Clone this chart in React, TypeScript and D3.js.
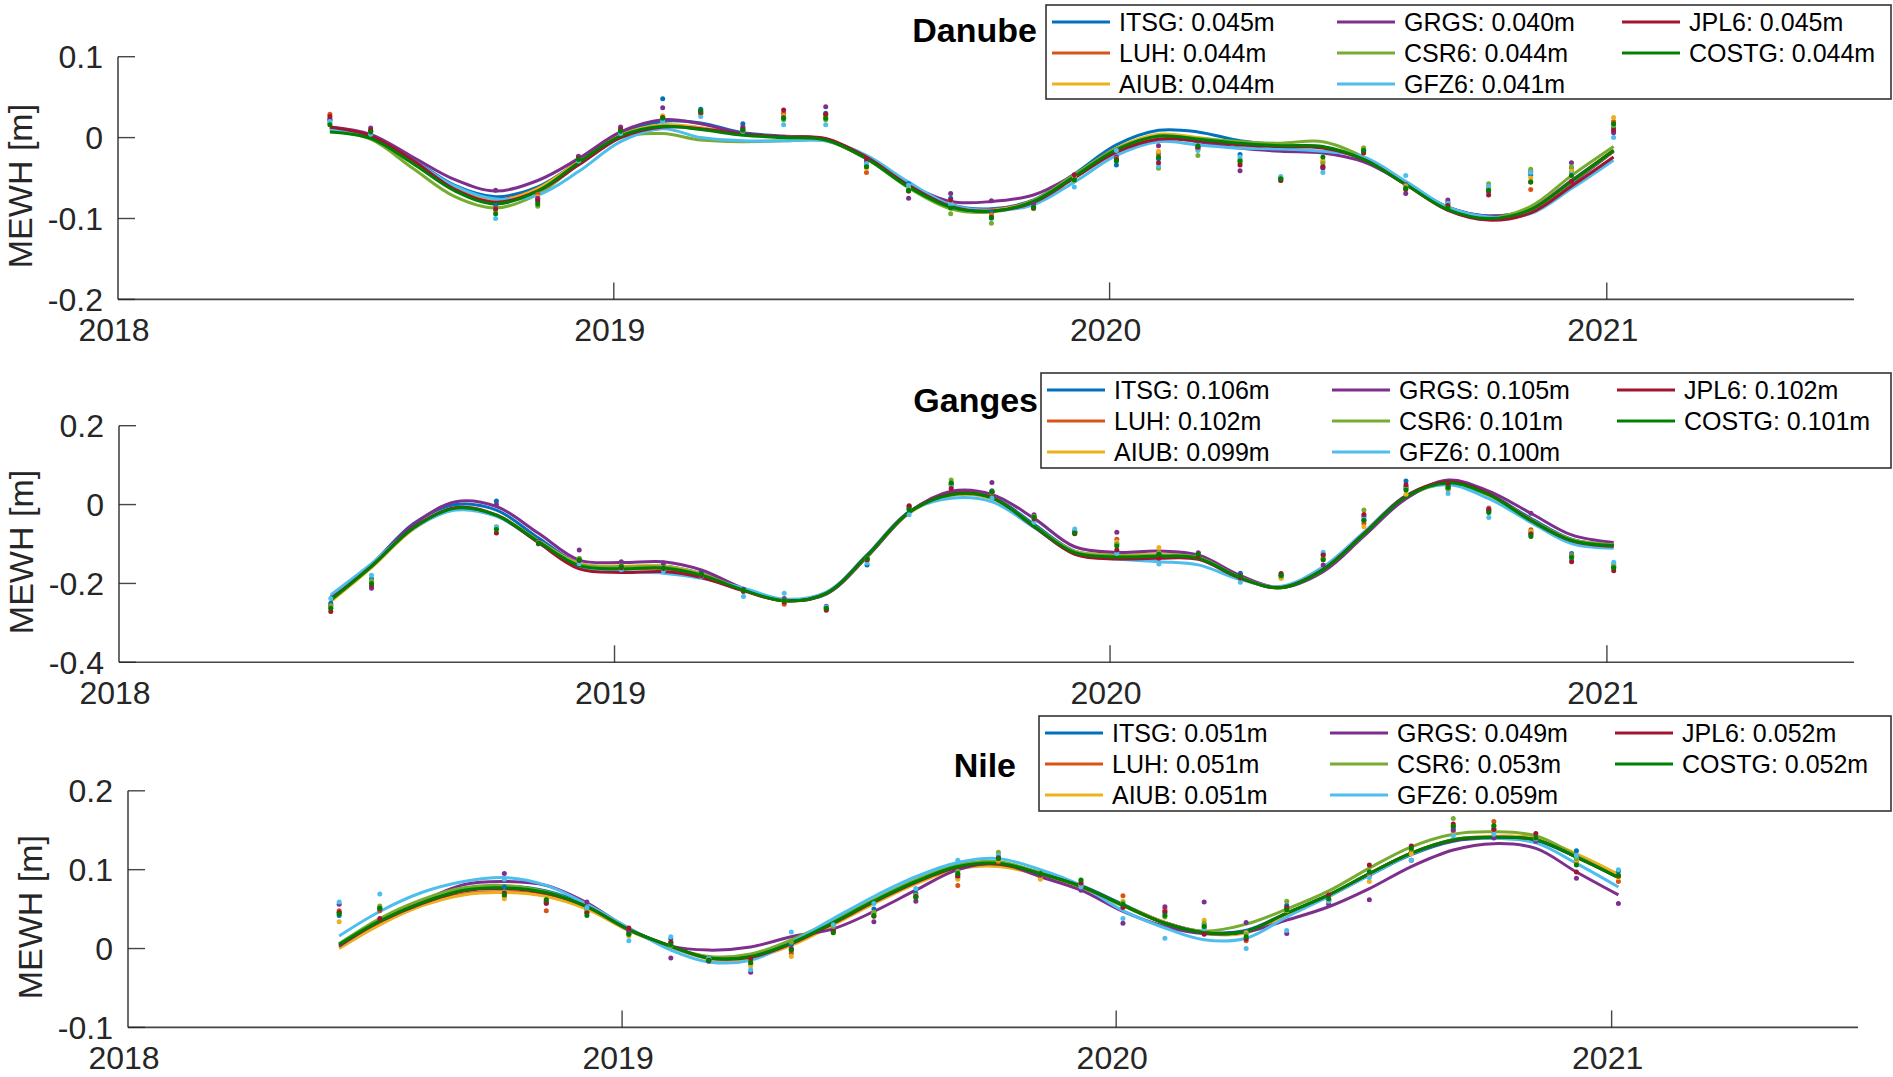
import * as d3 from "d3";

// GRACE-FO centre solutions, MATLAB default colour order + dark green
const CENTERS = ["ITSG", "LUH", "AIUB", "GRGS", "CSR6", "GFZ6", "JPL6", "COSTG"];
const COLORS = ["#0072BD", "#D95319", "#EDB120", "#7E2F8E", "#77AC30", "#4DBEEE", "#A2142F", "#008000"];

// monthly grid of the fitted curves, and the months that have solutions
const FIT_MONTHS = [
  "2018-06", "2018-07", "2018-08", "2018-09", "2018-10", "2018-11", "2018-12",
  "2019-01", "2019-02", "2019-03", "2019-04", "2019-05", "2019-06", "2019-07", "2019-08", "2019-09", "2019-10", "2019-11", "2019-12",
  "2020-01", "2020-02", "2020-03", "2020-04", "2020-05", "2020-06", "2020-07", "2020-08", "2020-09", "2020-10", "2020-11", "2020-12",
  "2021-01",
];
const OBS_MONTHS = [
  "2018-06", "2018-07", "2018-10", "2018-11", "2018-12",
  "2019-01", "2019-02", "2019-03", "2019-04", "2019-05", "2019-06", "2019-07", "2019-08", "2019-09", "2019-10", "2019-11", "2019-12",
  "2020-01", "2020-02", "2020-03", "2020-04", "2020-05", "2020-06", "2020-07", "2020-08", "2020-09", "2020-10", "2020-11", "2020-12",
  "2021-01",
];

const YEAR_TICKS = [2018, 2019, 2020, 2021];

// ---------- Danube ----------
const DANUBE_RMS = ["0.045", "0.044", "0.044", "0.040", "0.044", "0.041", "0.045", "0.044"];
const DANUBE_TICKS = [-0.2, -0.1, 0, 0.1];
const DANUBE_FIT = {
  ITSG: [0.011, 0.002, -0.027, -0.059, -0.073, -0.061, -0.030, 0.004, 0.020, 0.018, 0.006, 0.002, -0.002, -0.024, -0.058, -0.083, -0.088, -0.077, -0.045, -0.009, 0.009, 0.007, -0.004, -0.009, -0.012, -0.027, -0.056, -0.086, -0.097, -0.088, -0.056, -0.017],
  LUH: [0.012, 0.001, -0.029, -0.062, -0.077, -0.063, -0.030, 0.003, 0.015, 0.012, 0.004, 0.001, -0.002, -0.025, -0.059, -0.084, -0.089, -0.078, -0.047, -0.014, 0.002, -0.002, -0.008, -0.011, -0.012, -0.027, -0.058, -0.088, -0.099, -0.089, -0.055, -0.017],
  AIUB: [0.011, 0.001, -0.029, -0.063, -0.078, -0.063, -0.030, 0.003, 0.016, 0.012, 0.004, 0.001, -0.002, -0.025, -0.060, -0.085, -0.090, -0.078, -0.047, -0.013, 0.004, 0.000, -0.007, -0.010, -0.012, -0.027, -0.058, -0.088, -0.099, -0.089, -0.054, -0.015],
  GRGS: [0.013, 0.004, -0.024, -0.052, -0.066, -0.053, -0.026, 0.007, 0.022, 0.017, 0.005, 0.001, -0.003, -0.026, -0.058, -0.079, -0.079, -0.071, -0.046, -0.014, 0.000, -0.005, -0.013, -0.017, -0.019, -0.030, -0.057, -0.086, -0.097, -0.088, -0.053, -0.016],
  CSR6: [0.008, -0.002, -0.038, -0.073, -0.087, -0.070, -0.033, 0.000, 0.005, -0.003, -0.005, -0.004, -0.004, -0.026, -0.062, -0.088, -0.092, -0.078, -0.046, -0.014, 0.001, -0.001, -0.005, -0.007, -0.005, -0.024, -0.057, -0.086, -0.099, -0.085, -0.047, -0.011],
  GFZ6: [0.009, 0.001, -0.028, -0.060, -0.076, -0.071, -0.042, -0.005, 0.011, 0.000, -0.004, -0.004, -0.004, -0.022, -0.055, -0.083, -0.090, -0.083, -0.055, -0.022, -0.005, -0.009, -0.013, -0.014, -0.017, -0.024, -0.054, -0.086, -0.098, -0.094, -0.063, -0.028],
  JPL6: [0.013, 0.002, -0.028, -0.064, -0.080, -0.066, -0.034, 0.000, 0.013, 0.011, 0.004, 0.001, -0.001, -0.024, -0.059, -0.085, -0.091, -0.080, -0.050, -0.018, -0.002, -0.004, -0.009, -0.011, -0.013, -0.027, -0.058, -0.090, -0.102, -0.093, -0.060, -0.024],
  COSTG: [0.007, -0.001, -0.032, -0.066, -0.082, -0.066, -0.031, 0.002, 0.014, 0.010, 0.003, 0.000, -0.003, -0.026, -0.061, -0.086, -0.091, -0.079, -0.048, -0.015, 0.002, -0.002, -0.007, -0.010, -0.011, -0.027, -0.058, -0.089, -0.100, -0.089, -0.054, -0.016],
};
const DANUBE_OBS = {
  ITSG: [0.023, 0.008, -0.084, -0.076, -0.024, 0.012, 0.048, 0.035, 0.017, 0.028, 0.030, -0.033, -0.057, -0.075, -0.092, -0.084, -0.050, -0.034, -0.026, -0.013, -0.021, -0.050, -0.036, -0.016, -0.058, -0.081, -0.062, -0.046, -0.038, 0.012],
  LUH: [0.029, 0.008, -0.087, -0.070, -0.026, 0.010, 0.026, 0.030, 0.012, 0.030, 0.027, -0.043, -0.062, -0.078, -0.095, -0.085, -0.049, -0.028, -0.020, -0.014, -0.027, -0.052, -0.030, -0.014, -0.059, -0.080, -0.064, -0.064, -0.042, 0.020],
  AIUB: [0.021, 0.007, -0.088, -0.073, -0.025, 0.011, 0.027, 0.029, 0.011, 0.027, 0.025, -0.038, -0.063, -0.080, -0.097, -0.086, -0.048, -0.025, -0.017, -0.015, -0.029, -0.051, -0.028, -0.013, -0.060, -0.082, -0.061, -0.050, -0.040, 0.025],
  GRGS: [0.022, 0.012, -0.065, -0.075, -0.023, 0.013, 0.037, 0.033, 0.013, 0.025, 0.038, -0.030, -0.075, -0.069, -0.078, -0.082, -0.052, -0.024, -0.010, -0.012, -0.041, -0.050, -0.038, -0.015, -0.069, -0.077, -0.067, -0.042, -0.031, 0.006],
  CSR6: [0.018, 0.006, -0.090, -0.085, -0.028, 0.006, 0.022, 0.030, 0.008, 0.022, 0.022, -0.035, -0.066, -0.094, -0.106, -0.088, -0.053, -0.026, -0.038, -0.022, -0.031, -0.053, -0.032, -0.013, -0.061, -0.085, -0.057, -0.039, -0.036, 0.015],
  GFZ6: [0.020, 0.004, -0.100, -0.080, -0.029, 0.005, 0.020, 0.026, 0.008, 0.016, 0.016, -0.032, -0.059, -0.082, -0.100, -0.086, -0.061, -0.016, -0.035, -0.016, -0.024, -0.048, -0.043, -0.017, -0.047, -0.081, -0.060, -0.043, -0.045, 0.000],
  JPL6: [0.026, 0.009, -0.088, -0.078, -0.026, 0.010, 0.025, 0.031, 0.010, 0.034, 0.029, -0.026, -0.066, -0.077, -0.098, -0.087, -0.046, -0.027, -0.031, -0.012, -0.034, -0.053, -0.036, -0.019, -0.064, -0.084, -0.071, -0.055, -0.054, 0.009],
  COSTG: [0.016, 0.007, -0.094, -0.082, -0.027, 0.008, 0.024, 0.033, 0.009, 0.024, 0.024, -0.036, -0.065, -0.087, -0.099, -0.086, -0.052, -0.029, -0.024, -0.010, -0.029, -0.051, -0.024, -0.016, -0.063, -0.087, -0.065, -0.055, -0.047, 0.017],
};

// ---------- Ganges ----------
const GANGES_RMS = ["0.106", "0.102", "0.099", "0.105", "0.101", "0.100", "0.102", "0.101"];
const GANGES_TICKS = [-0.4, -0.2, 0, 0.2];
const GANGES_FIT = {
  ITSG: [-0.235, -0.152, -0.048, 0.000, -0.014, -0.085, -0.150, -0.158, -0.156, -0.175, -0.215, -0.243, -0.225, -0.128, -0.018, 0.028, 0.020, -0.050, -0.118, -0.128, -0.128, -0.133, -0.184, -0.210, -0.165, -0.073, 0.022, 0.057, 0.027, -0.035, -0.088, -0.102],
  LUH: [-0.241, -0.156, -0.058, -0.008, -0.026, -0.093, -0.153, -0.163, -0.162, -0.180, -0.217, -0.244, -0.226, -0.131, -0.021, 0.024, 0.016, -0.055, -0.121, -0.133, -0.132, -0.136, -0.186, -0.211, -0.166, -0.076, 0.019, 0.054, 0.024, -0.040, -0.091, -0.104],
  AIUB: [-0.246, -0.160, -0.062, -0.010, -0.026, -0.092, -0.150, -0.156, -0.156, -0.176, -0.216, -0.244, -0.226, -0.132, -0.022, 0.023, 0.015, -0.055, -0.119, -0.127, -0.127, -0.133, -0.185, -0.210, -0.166, -0.077, 0.018, 0.053, 0.023, -0.040, -0.089, -0.101],
  GRGS: [-0.235, -0.152, -0.050, 0.007, -0.005, -0.073, -0.141, -0.147, -0.145, -0.166, -0.213, -0.243, -0.227, -0.133, -0.020, 0.034, 0.026, -0.035, -0.107, -0.121, -0.118, -0.128, -0.180, -0.210, -0.170, -0.080, 0.015, 0.062, 0.034, -0.022, -0.077, -0.096],
  CSR6: [-0.242, -0.157, -0.060, -0.010, -0.028, -0.094, -0.152, -0.158, -0.158, -0.177, -0.215, -0.243, -0.225, -0.130, -0.020, 0.026, 0.018, -0.054, -0.120, -0.130, -0.129, -0.134, -0.185, -0.210, -0.165, -0.075, 0.021, 0.056, 0.026, -0.038, -0.089, -0.102],
  GFZ6: [-0.229, -0.150, -0.060, -0.014, -0.030, -0.095, -0.158, -0.170, -0.174, -0.187, -0.212, -0.240, -0.222, -0.127, -0.018, 0.016, 0.007, -0.058, -0.125, -0.138, -0.145, -0.153, -0.190, -0.207, -0.158, -0.070, 0.022, 0.050, 0.015, -0.045, -0.099, -0.111],
  JPL6: [-0.240, -0.156, -0.058, -0.008, -0.027, -0.097, -0.163, -0.172, -0.170, -0.185, -0.219, -0.244, -0.225, -0.129, -0.019, 0.027, 0.018, -0.056, -0.126, -0.138, -0.136, -0.139, -0.187, -0.210, -0.164, -0.074, 0.022, 0.058, 0.027, -0.040, -0.092, -0.106],
  COSTG: [-0.242, -0.157, -0.059, -0.009, -0.027, -0.094, -0.155, -0.163, -0.161, -0.179, -0.217, -0.244, -0.225, -0.130, -0.020, 0.025, 0.017, -0.055, -0.122, -0.133, -0.131, -0.136, -0.186, -0.211, -0.165, -0.075, 0.020, 0.055, 0.025, -0.041, -0.091, -0.104],
};
const GANGES_OBS = {
  ITSG: [-0.250, -0.188, 0.009, -0.095, -0.140, -0.153, -0.156, -0.172, -0.220, -0.240, -0.262, -0.153, -0.012, 0.050, 0.035, -0.030, -0.068, -0.100, -0.125, -0.126, -0.174, -0.180, -0.126, -0.040, 0.060, 0.042, -0.015, -0.070, -0.124, -0.155],
  LUH: [-0.262, -0.195, -0.060, -0.097, -0.137, -0.155, -0.159, -0.176, -0.218, -0.253, -0.265, -0.142, -0.004, 0.050, 0.033, -0.032, -0.070, -0.088, -0.120, -0.124, -0.180, -0.186, -0.138, -0.048, 0.042, 0.040, -0.009, -0.064, -0.132, -0.158],
  AIUB: [-0.258, -0.196, -0.058, -0.095, -0.138, -0.154, -0.158, -0.174, -0.219, -0.245, -0.262, -0.140, -0.008, 0.048, 0.030, -0.034, -0.071, -0.095, -0.109, -0.126, -0.182, -0.187, -0.140, -0.056, 0.026, 0.038, -0.015, -0.068, -0.128, -0.150],
  GRGS: [-0.255, -0.212, 0.000, -0.093, -0.115, -0.145, -0.148, -0.170, -0.215, -0.238, -0.258, -0.138, -0.006, 0.055, 0.056, -0.026, -0.068, -0.070, -0.128, -0.122, -0.178, -0.179, -0.153, -0.030, 0.045, 0.045, -0.012, -0.022, -0.130, -0.160],
  CSR6: [-0.256, -0.193, -0.056, -0.096, -0.137, -0.156, -0.160, -0.178, -0.218, -0.242, -0.262, -0.136, -0.010, 0.062, 0.030, -0.030, -0.072, -0.100, -0.122, -0.130, -0.184, -0.182, -0.135, -0.014, 0.040, 0.038, -0.018, -0.073, -0.132, -0.153],
  GFZ6: [-0.238, -0.179, -0.058, -0.100, -0.150, -0.165, -0.168, -0.182, -0.233, -0.225, -0.260, -0.148, -0.026, 0.046, 0.016, -0.045, -0.062, -0.124, -0.151, -0.128, -0.197, -0.176, -0.121, -0.035, 0.038, 0.028, -0.033, -0.078, -0.140, -0.146],
  JPL6: [-0.271, -0.205, -0.072, -0.099, -0.142, -0.160, -0.162, -0.180, -0.220, -0.247, -0.268, -0.140, -0.003, 0.041, 0.032, -0.036, -0.074, -0.115, -0.136, -0.132, -0.186, -0.175, -0.128, -0.025, 0.050, 0.050, -0.014, -0.075, -0.145, -0.168],
  COSTG: [-0.263, -0.200, -0.063, -0.098, -0.140, -0.157, -0.160, -0.176, -0.217, -0.243, -0.263, -0.137, -0.012, 0.055, 0.032, -0.032, -0.072, -0.105, -0.126, -0.126, -0.182, -0.180, -0.140, -0.040, 0.037, 0.043, -0.020, -0.081, -0.134, -0.160],
};

// ---------- Nile ----------
const NILE_RMS = ["0.051", "0.051", "0.051", "0.049", "0.053", "0.059", "0.052", "0.052"];
const NILE_TICKS = [-0.1, 0, 0.1, 0.2];
const NILE_FIT = {
  ITSG: [0.006, 0.036, 0.060, 0.076, 0.079, 0.073, 0.055, 0.025, 0.002, -0.012, -0.010, 0.008, 0.034, 0.060, 0.084, 0.103, 0.108, 0.096, 0.080, 0.056, 0.033, 0.021, 0.023, 0.045, 0.067, 0.093, 0.119, 0.136, 0.140, 0.137, 0.116, 0.091],
  LUH: [0.001, 0.031, 0.055, 0.069, 0.072, 0.067, 0.051, 0.023, 0.003, -0.013, -0.012, 0.005, 0.031, 0.058, 0.083, 0.102, 0.105, 0.094, 0.078, 0.055, 0.033, 0.020, 0.021, 0.044, 0.067, 0.095, 0.121, 0.138, 0.142, 0.140, 0.119, 0.093],
  AIUB: [0.000, 0.030, 0.054, 0.068, 0.071, 0.066, 0.050, 0.023, 0.003, -0.013, -0.012, 0.004, 0.030, 0.057, 0.082, 0.101, 0.104, 0.093, 0.078, 0.055, 0.033, 0.019, 0.020, 0.043, 0.066, 0.094, 0.121, 0.138, 0.142, 0.140, 0.120, 0.094],
  GRGS: [0.003, 0.035, 0.060, 0.081, 0.085, 0.080, 0.058, 0.025, 0.003, -0.002, 0.002, 0.015, 0.025, 0.047, 0.074, 0.100, 0.108, 0.091, 0.074, 0.047, 0.028, 0.019, 0.021, 0.036, 0.053, 0.076, 0.104, 0.125, 0.133, 0.127, 0.097, 0.068],
  CSR6: [0.006, 0.038, 0.062, 0.077, 0.080, 0.072, 0.053, 0.023, 0.002, -0.010, -0.007, 0.011, 0.036, 0.062, 0.087, 0.106, 0.110, 0.096, 0.078, 0.054, 0.032, 0.022, 0.031, 0.050, 0.073, 0.102, 0.129, 0.145, 0.148, 0.143, 0.118, 0.090],
  GFZ6: [0.016, 0.047, 0.071, 0.085, 0.090, 0.080, 0.056, 0.026, -0.002, -0.017, -0.015, 0.008, 0.038, 0.066, 0.091, 0.109, 0.114, 0.100, 0.080, 0.048, 0.026, 0.011, 0.013, 0.040, 0.066, 0.093, 0.120, 0.138, 0.140, 0.134, 0.108, 0.078],
  JPL6: [0.004, 0.034, 0.057, 0.073, 0.076, 0.070, 0.053, 0.024, 0.003, -0.012, -0.011, 0.006, 0.032, 0.059, 0.084, 0.103, 0.107, 0.095, 0.079, 0.055, 0.032, 0.020, 0.022, 0.045, 0.068, 0.095, 0.121, 0.137, 0.141, 0.138, 0.116, 0.090],
  COSTG: [0.005, 0.035, 0.058, 0.074, 0.077, 0.071, 0.053, 0.024, 0.003, -0.012, -0.010, 0.007, 0.033, 0.060, 0.085, 0.104, 0.108, 0.095, 0.079, 0.055, 0.032, 0.020, 0.022, 0.045, 0.068, 0.095, 0.121, 0.138, 0.141, 0.138, 0.116, 0.090],
};
const NILE_OBS = {
  ITSG: [0.042, 0.052, 0.078, 0.060, 0.050, 0.020, 0.012, -0.012, -0.018, 0.005, 0.025, 0.050, 0.070, 0.090, 0.116, 0.092, 0.082, 0.055, 0.045, 0.030, 0.022, 0.055, 0.062, 0.095, 0.122, 0.152, 0.152, 0.142, 0.124, 0.098],
  LUH: [0.048, 0.048, 0.066, 0.048, 0.046, 0.024, 0.008, -0.014, -0.020, -0.006, 0.022, 0.045, 0.066, 0.080, 0.110, 0.090, 0.080, 0.067, 0.050, 0.026, 0.010, 0.050, 0.060, 0.092, 0.124, 0.155, 0.161, 0.140, 0.110, 0.085],
  AIUB: [0.034, 0.053, 0.063, 0.058, 0.048, 0.016, 0.006, -0.013, -0.022, -0.010, 0.020, 0.044, 0.064, 0.088, 0.112, 0.088, 0.081, 0.060, 0.048, 0.036, 0.020, 0.048, 0.058, 0.085, 0.120, 0.148, 0.150, 0.141, 0.112, 0.090],
  GRGS: [0.056, 0.050, 0.095, 0.057, 0.059, 0.022, -0.012, -0.016, -0.030, 0.000, 0.024, 0.034, 0.060, 0.094, 0.118, 0.093, 0.074, 0.032, 0.053, 0.059, 0.033, 0.019, 0.056, 0.062, 0.112, 0.150, 0.140, 0.136, 0.089, 0.057],
  CSR6: [0.045, 0.054, 0.072, 0.062, 0.047, 0.018, 0.004, -0.012, -0.015, 0.008, 0.028, 0.046, 0.068, 0.098, 0.122, 0.096, 0.086, 0.058, 0.040, 0.032, 0.018, 0.060, 0.062, 0.098, 0.126, 0.165, 0.155, 0.141, 0.114, 0.092],
  GFZ6: [0.059, 0.069, 0.088, 0.060, 0.052, 0.010, 0.015, -0.013, -0.027, 0.021, 0.030, 0.057, 0.076, 0.112, 0.118, 0.094, 0.078, 0.038, 0.013, 0.025, 0.000, 0.023, 0.060, 0.090, 0.112, 0.143, 0.145, 0.139, 0.118, 0.100],
  JPL6: [0.046, 0.038, 0.070, 0.058, 0.045, 0.026, 0.008, -0.015, -0.013, -0.002, 0.022, 0.041, 0.066, 0.092, 0.115, 0.094, 0.083, 0.052, 0.047, 0.018, 0.012, 0.052, 0.068, 0.106, 0.130, 0.158, 0.151, 0.146, 0.097, 0.092],
  COSTG: [0.044, 0.051, 0.068, 0.062, 0.042, 0.018, 0.005, -0.015, -0.018, -0.002, 0.020, 0.042, 0.065, 0.095, 0.114, 0.095, 0.087, 0.056, 0.042, 0.028, 0.015, 0.049, 0.063, 0.097, 0.127, 0.155, 0.156, 0.140, 0.106, 0.093],
};

const W = 1893;
const H = 1077;
const FONT = "'Liberation Sans', Arial, Helvetica, sans-serif";
const INK = "#262626";

const toDate = (s: string) => {
  const [yy, mm] = s.split("-").map(Number);
  return new Date(yy, mm - 1, 6);
};

type Frame = {
  x0: number; x1: number; yTop: number; yBot: number;
  box: { x: number; y: number; w: number; h: number };
  titleX: number; titleY: number;
};

const FRAMES: Frame[] = [
  { x0: 118, x1: 1854, yTop: 56.7, yBot: 299.4, box: { x: 1046, y: 5, w: 845, h: 94 }, titleX: 1037, titleY: 30 },
  { x0: 119, x1: 1854, yTop: 425.7, yBot: 662.3, box: { x: 1041, y: 373, w: 850, h: 95 }, titleX: 1038, titleY: 400 },
  { x0: 128, x1: 1858, yTop: 790.8, yBot: 1027.4, box: { x: 1039, y: 716, w: 852, h: 95 }, titleX: 1016, titleY: 765 },
];

function Panel({ frame, title, ticks, rms, fit, obs }: {
  frame: Frame; title: string; ticks: number[]; rms: string[];
  fit: Record<string, number[]>; obs: Record<string, number[]>;
}) {
  const x = d3.scaleTime()
    .domain([new Date(2018, 0, 1), new Date(2021, 6, 2)])
    .range([frame.x0, frame.x1]);
  const y = d3.scaleLinear()
    .domain([ticks[0], ticks[ticks.length - 1]])
    .range([frame.yBot, frame.yTop]);

  const fitDates = FIT_MONTHS.map(toDate);
  const obsDates = OBS_MONTHS.map(toDate);
  const line = d3.line<number>()
    .x((_, i) => x(fitDates[i]))
    .y((v) => y(v))
    .curve(d3.curveCatmullRom.alpha(0.5));

  const { box } = frame;
  const rowY = (r: number) => box.y + 17 + r * 31;

  return (
    <g>
      {/* axes */}
      <line x1={frame.x0} x2={frame.x1} y1={frame.yBot} y2={frame.yBot} stroke={INK} strokeOpacity={0.85} strokeWidth={1.6} />
      <line x1={frame.x0} x2={frame.x0} y1={frame.yTop} y2={frame.yBot} stroke={INK} strokeOpacity={0.85} strokeWidth={1.6} />
      {ticks.map((t) => (
        <g key={t}>
          <line x1={frame.x0} x2={frame.x0 + 17} y1={y(t)} y2={y(t)} stroke={INK} strokeOpacity={0.85} strokeWidth={1.4} />
          <text x={frame.x0 - 15} y={y(t)} dy="0.36em" textAnchor="end" fontSize={32} fill={INK} fontFamily={FONT}>
            {String(t)}
          </text>
        </g>
      ))}
      {YEAR_TICKS.map((yr) => {
        const px = x(new Date(yr, 0, 1));
        return (
          <g key={yr}>
            {yr > 2018 && (
              <line x1={px} x2={px} y1={frame.yBot} y2={frame.yBot - 17} stroke={INK} strokeOpacity={0.85} strokeWidth={1.4} />
            )}
            <text x={px - 4} y={frame.yBot + 42} textAnchor="middle" fontSize={32} fill={INK} fontFamily={FONT}>
              {yr}
            </text>
          </g>
        );
      })}
      <text
        transform={`translate(${frame.x0 - 98},${(frame.yTop + frame.yBot) / 2 + 8}) rotate(-90)`}
        dy="0.36em" textAnchor="middle" fontSize={34} fill={INK} fontFamily={FONT}
      >
        MEWH [m]
      </text>

      {/* fitted curves */}
      {CENTERS.map((c, i) => (
        <path key={c} d={line(fit[c]) ?? ""} fill="none" stroke={COLORS[i]} strokeWidth={3} strokeLinejoin="round" />
      ))}

      {/* monthly solutions */}
      {CENTERS.map((c, i) => (
        <g key={c} fill={COLORS[i]}>
          {obs[c].map((v, j) => (
            <circle key={j} cx={x(obsDates[j])} cy={y(v)} r={2.5} />
          ))}
        </g>
      ))}

      {/* title + legend */}
      <text x={frame.titleX} y={frame.titleY} dy="0.36em" textAnchor="end" fontSize={34} fontWeight="bold" fill="#000" fontFamily={FONT}>
        {title}
      </text>
      <rect x={box.x} y={box.y} width={box.w} height={box.h} fill="#fff" stroke="#333" strokeWidth={1.6} />
      {CENTERS.map((c, i) => {
        const col = Math.floor(i / 3);
        const row = i % 3;
        const lx = box.x + 6 + col * 285;
        const ly = rowY(row);
        return (
          <g key={c}>
            <line x1={lx} x2={lx + 58} y1={ly} y2={ly} stroke={COLORS[i]} strokeWidth={3} />
            <text x={lx + 67} y={ly} dy="0.36em" fontSize={25} fill="#000" fontFamily={FONT}>
              {`${c}: ${rms[i]}m`}
            </text>
          </g>
        );
      })}
    </g>
  );
}

export default function App() {
  return (
    <svg
      width={W}
      height={H}
      viewBox={`0 0 ${W} ${H}`}
      style={{ position: "absolute", left: 0, top: 0, background: "#fff", display: "block" }}
    >
      <Panel frame={FRAMES[0]} title="Danube" ticks={DANUBE_TICKS} rms={DANUBE_RMS} fit={DANUBE_FIT} obs={DANUBE_OBS} />
      <Panel frame={FRAMES[1]} title="Ganges" ticks={GANGES_TICKS} rms={GANGES_RMS} fit={GANGES_FIT} obs={GANGES_OBS} />
      <Panel frame={FRAMES[2]} title="Nile" ticks={NILE_TICKS} rms={NILE_RMS} fit={NILE_FIT} obs={NILE_OBS} />
    </svg>
  );
}
